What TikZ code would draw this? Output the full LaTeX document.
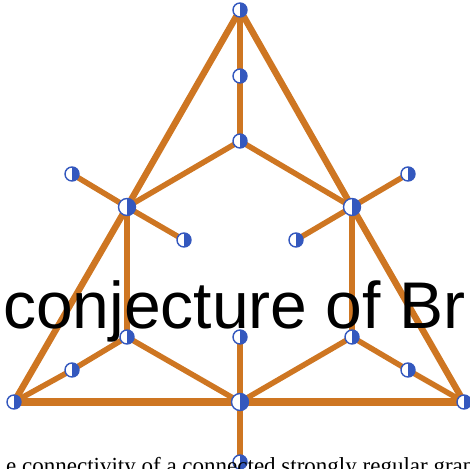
\documentclass[tikz,border=0pt]{standalone}
\usepackage{fontspec}
\setmainfont{Liberation Serif}
\newfontfamily\bigsans{Liberation Sans}
\usetikzlibrary{positioning,backgrounds}
\definecolor{edgeorange}{RGB}{206,118,34}
\definecolor{vblue}{RGB}{52,88,190}
\tikzset{every picture/.style={>=latex}}

\begin{document}
\begin{tikzpicture}[
    x=1pt, y=-1pt,
    vtx/.style={circle, draw=vblue, fill=white, line width=1.4pt,
        minimum size=14pt, inner sep=0pt,
        path picture={\fill[vblue] (path picture bounding box.north)
            rectangle (path picture bounding box.south east);}},
    hub/.style={vtx, minimum size=17pt},
    edge/.style={draw=edgeorange, line width=5.5pt},
    side/.style={draw=edgeorange, line width=6.5pt},
    base/.style={draw=edgeorange, line width=8.5pt}
]

% ------------------------------------------------------------
% Frame
% ------------------------------------------------------------
\useasboundingbox (0,0) rectangle (470,468);
\clip (0,0) rectangle (470,468);

% ------------------------------------------------------------
% Vertices
% ------------------------------------------------------------
\node[vtx] (top)  at (240,10)  {};
\node[vtx] (tmid) at (240,76)  {};
\node[vtx] (ctr)  at (240,141) {};

\node[hub] (lhub) at (127,207) {};
\node[hub] (rhub) at (352,207) {};
\node[vtx] (lout) at (72,174)  {};
\node[vtx] (lin)  at (184,240) {};
\node[vtx] (rout) at (408,174) {};
\node[vtx] (rin)  at (296,240) {};

\node[vtx] (llow) at (127,337) {};
\node[vtx] (mlow) at (240,337) {};
\node[vtx] (rlow) at (352,337) {};
\node[vtx] (lmid) at (72,370)  {};
\node[vtx] (rmid) at (408,370) {};

\node[vtx] (bl)   at (14,402)  {};
\node[hub] (bm)   at (240,402) {};
\node[vtx] (br)   at (464,402) {};
\node[vtx] (stem) at (240,462) {};

% ------------------------------------------------------------
% Edges (behind the vertices)
% ------------------------------------------------------------
\begin{scope}[on background layer]
  % outer triangle
  \draw[side] (bl.center) -- (lhub.center) -- (top.center) -- (rhub.center) -- (br.center);
  \draw[base] (bl.center) -- (br.center);

  % upper part
  \draw[edge] (top.center) -- (tmid.center) -- (ctr.center);
  \draw[edge] (lhub.center) -- (ctr.center) -- (rhub.center);
  \draw[edge] (lout.center) -- (lhub.center) -- (lin.center);
  \draw[edge] (rout.center) -- (rhub.center) -- (rin.center);
  \draw[edge] (lhub.center) -- (llow.center);
  \draw[edge] (rhub.center) -- (rlow.center);

  % lower part
  \draw[edge] (bl.center) -- (lmid.center) -- (llow.center) -- (bm.center);
  \draw[edge] (br.center) -- (rmid.center) -- (rlow.center) -- (bm.center);
  \draw[edge] (mlow.center) -- (bm.center) -- (stem.center);
\end{scope}

% ------------------------------------------------------------
% Overlaid text
% ------------------------------------------------------------
\node[anchor=base west, inner sep=0pt, font=\bigsans\fontsize{66}{66}\selectfont]
  (title) at (3,328) {conjecture of Br};
\node[anchor=base west, inner sep=0pt, font=\fontsize{23}{23}\selectfont]
  (caption) at (6,473) {e connectivity of a connected strongly regular graph};

\end{tikzpicture}
\end{document}
